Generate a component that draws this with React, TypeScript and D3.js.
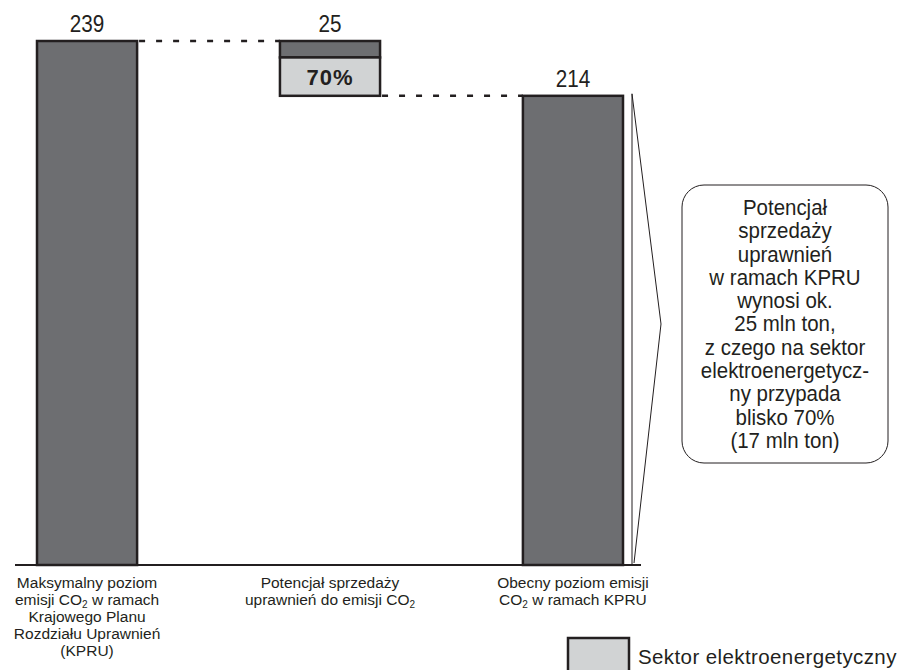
import React from "react";
import * as d3 from "d3";

// chart data
const categories = ["max", "potential", "current"];
const barValues = [239, 25, 214];
const sectorShare = 0.7; // udział sektora elektroenergetycznego w potencjale sprzedaży
const valueLabels = ["239", "25", "214"];
const shareLabel = "70%";

// category labels, CO2 handled by tspan subscript
const categoryLines = [
  ["Maksymalny poziom", "emisji CO2 w ramach", "Krajowego Planu", "Rozdziału Uprawnień", "(KPRU)"],
  ["Potencjał sprzedaży", "uprawnień do emisji CO2"],
  ["Obecny poziom emisji", "CO2 w ramach KPRU"],
];

const calloutLines = [
  "Potencjał",
  "sprzedaży",
  "uprawnień",
  "w ramach KPRU",
  "wynosi ok.",
  "25 mln ton,",
  "z czego na sektor",
  "elektroenergetycz-",
  "ny przypada",
  "blisko 70%",
  "(17 mln ton)",
];

const legendLabel = "Sektor elektroenergetyczny";

const W = 900;
const H = 670;
const DARK = "#6d6e71";
const LIGHT = "#d1d3d4";
const INK = "#231f20";
const FONT = "'Liberation Sans', Arial, sans-serif";

// render "CO2" with a small lowered 2
const withSub = (line: string) => {
  const i = line.indexOf("CO2");
  if (i < 0) return line;
  return (
    <>
      {line.slice(0, i + 2)}
      <tspan dy={2.5} fontSize={10}>2</tspan>
      <tspan dy={-2.5}>{line.slice(i + 3)}</tspan>
    </>
  );
};

export default function App() {
  const x = d3
    .scaleBand<string>()
    .domain(categories)
    .range([37, 623])
    .paddingInner(0.588)
    .paddingOuter(0);

  const y = d3.scaleLinear().domain([0, 239]).range([565, 41]);

  const bw = x.bandwidth();
  const maxV = barValues[0];
  const potV = barValues[1];
  const curV = barValues[2];

  // floating bar: from current level up to max level
  const potTop = y(maxV);
  const potSplit = y(maxV - potV * (1 - sectorShare));
  const potBottom = y(maxV - potV);

  const x0 = x(categories[0])!;
  const x1 = x(categories[1])!;
  const x2 = x(categories[2])!;

  // callout
  const box = { x: 682, y: 185, w: 206, h: 278 };
  const boxCy = box.y + box.h / 2;
  const brX = x2 + bw + 9;
  const tipX = brX + 29;

  return (
    <svg
      width={W}
      height={H}
      style={{ position: "absolute", left: 0, top: 0, background: "#fff" }}
      fontFamily={FONT}
    >
      {/* dashed connectors */}
      <line
        x1={x0 + bw}
        x2={x1}
        y1={y(maxV)}
        y2={y(maxV)}
        stroke={INK}
        strokeWidth={2.5}
        strokeDasharray="6,11"
        strokeDashoffset={-2}
      />
      <line
        x1={x1 + bw}
        x2={x2}
        y1={y(curV)}
        y2={y(curV)}
        stroke={INK}
        strokeWidth={2.5}
        strokeDasharray="6,11"
        strokeDashoffset={-2}
      />

      {/* bars */}
      <rect x={x0} y={y(maxV)} width={bw} height={y(0) - y(maxV)} fill={DARK} stroke={INK} strokeWidth={2.5} />
      <rect x={x1} y={potTop} width={bw} height={potSplit - potTop} fill={DARK} stroke={INK} strokeWidth={2.5} />
      <rect x={x1} y={potSplit} width={bw} height={potBottom - potSplit} fill={LIGHT} stroke={INK} strokeWidth={2.5} />
      <rect x={x2} y={y(curV)} width={bw} height={y(0) - y(curV)} fill={DARK} stroke={INK} strokeWidth={2.5} />

      {/* baseline */}
      <line x1={15} x2={641} y1={y(0)} y2={y(0)} stroke={INK} strokeWidth={2.2} />

      {/* value labels */}
      {[maxV, maxV, curV].map((v, i) => (
        <text
          key={i}
          transform={`translate(${x(categories[i])! + bw / 2},${y(v) - 9}) scale(0.9,1)`}
          textAnchor="middle"
          fontSize={23}
          fill={INK}
        >
          {valueLabels[i]}
        </text>
      ))}

      <text
        x={x1 + bw / 2}
        y={(potSplit + potBottom) / 2 + 8}
        textAnchor="middle"
        fontSize={22}
        fontWeight="bold"
        letterSpacing={1}
        fill={INK}
      >
        {shareLabel}
      </text>

      {/* category labels */}
      {categoryLines.map((lines, i) => (
        <text key={i} textAnchor="middle" fontSize={15.5} fill={INK}>
          {lines.map((l, j) => (
            <tspan key={j} x={x(categories[i])! + bw / 2} y={588 + j * 17}>
              {withSub(l)}
            </tspan>
          ))}
        </text>
      ))}

      {/* bracket */}
      <line x1={brX} x2={brX} y1={y(curV) - 2} y2={y(0)} stroke={INK} strokeWidth={1} />
      <polyline
        points={`${brX},${y(curV) - 2} ${tipX},${boxCy} ${brX + 2},${y(0) - 2}`}
        fill="none"
        stroke={INK}
        strokeWidth={1}
      />

      {/* callout box */}
      <rect x={box.x} y={box.y} width={box.w} height={box.h} rx={22} fill="#fff" stroke={INK} strokeWidth={1} />
      <g transform={`translate(${box.x + box.w / 2},0) scale(0.91,1)`}>
        <text textAnchor="middle" fontSize={22.5} fill={INK}>
          {calloutLines.map((l, j) => (
            <tspan key={j} x={0} y={215 + j * 23.3}>
              {l}
            </tspan>
          ))}
        </text>
      </g>

      {/* legend */}
      <rect x={568} y={638} width={61} height={45} fill={LIGHT} stroke={INK} strokeWidth={2.5} />
      <text x={638} y={664} fontSize={20.5} letterSpacing={0.4} fill={INK}>
        {legendLabel}
      </text>
    </svg>
  );
}
